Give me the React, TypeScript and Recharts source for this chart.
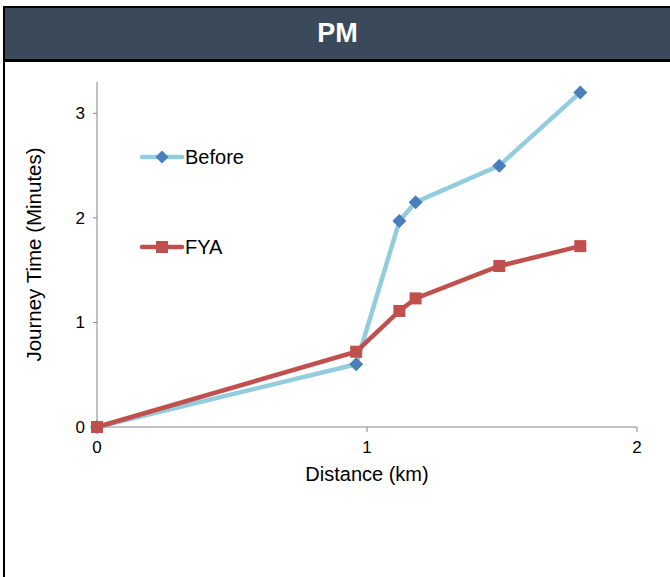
import { LineChart, Line, XAxis, YAxis } from 'recharts';

const FONT = "'Liberation Sans', Arial, sans-serif";
const AXIS = '#868686';
const BEFORE_LINE = '#93cddd';
const BEFORE_MARK = '#4a7ebb';
const FYA_COLOR = '#c0504d';

// distance along the route (km) and journey time (minutes)
const distanceKm = [0, 0.96, 1.12, 1.18, 1.49, 1.79];
const beforeMin = [0, 0.6, 1.97, 2.15, 2.5, 3.2];
const fyaMin = [0, 0.72, 1.11, 1.23, 1.54, 1.73];

const xTicks = [0, 1, 2];
const yTicks = [0, 1, 2, 3];

const data = distanceKm.map((d, i) => ({ d, before: beforeMin[i], fya: fyaMin[i] }));

const TICK = { fontSize: 17, fill: '#000', fontFamily: FONT };

function Diamond({ cx, cy, r = 7 }: { cx: number; cy: number; r?: number }) {
  return <path d={`M${cx},${cy - r}L${cx + r},${cy}L${cx},${cy + r}L${cx - r},${cy}Z`} fill={BEFORE_MARK} />;
}

function Square({ cx, cy, s = 12 }: { cx: number; cy: number; s?: number }) {
  return <rect x={cx - s / 2} y={cy - s / 2} width={s} height={s} fill={FYA_COLOR} />;
}

const beforeDot = (p: any) => <Diamond key={`b${p.index}`} cx={p.cx} cy={p.cy} />;
const fyaDot = (p: any) => <Square key={`f${p.index}`} cx={p.cx} cy={p.cy} />;

// legend sits inside the plot, top-left, two rows far apart
function LegendRow({ label, line, mark, top }: { label: string; line: string; mark: 'diamond' | 'square'; top: number }) {
  return (
    <div style={{ position: 'absolute', left: 139, top: top - 12, height: 24, display: 'flex', alignItems: 'center' }}>
      <svg width={46} height={24}>
        <line x1={3} y1={12} x2={43} y2={12} stroke={line} strokeWidth={4.5} strokeLinecap="round" />
        {mark === 'diamond' ? <Diamond cx={23} cy={12} r={6.5} /> : <Square cx={23} cy={12} s={12} />}
      </svg>
      <span style={{ fontFamily: FONT, fontSize: 20, color: '#000', lineHeight: '24px' }}>{label}</span>
    </div>
  );
}

const yTitle = (p: any) => {
  const { y, height } = p.viewBox;
  const cx = 33;
  const cy = y + height / 2;
  return (
    <text x={cx} y={cy} transform={`rotate(-90, ${cx}, ${cy})`} textAnchor="middle" dominantBaseline="central"
      fontFamily={FONT} fontSize={20.5} fill="#000">
      Journey Time (Minutes)
    </text>
  );
};

const xTitle = (p: any) => {
  const { x, width } = p.viewBox;
  return (
    <text x={x + width / 2} y={412} textAnchor="middle" dominantBaseline="central" fontFamily={FONT} fontSize={20} fill="#000">
      Distance (km)
    </text>
  );
};

export default function App() {
  return (
    <div style={{ position: 'absolute', left: 0, top: 0, width: 670, height: 577, overflow: 'hidden', background: '#fff' }}>
      <div style={{
        position: 'absolute', left: 3, top: 6, width: 700, height: 600,
        borderLeft: '2px solid #000', borderTop: '2px solid #000', boxSizing: 'border-box',
      }} />
      <div style={{
        position: 'absolute', left: 5, top: 8, width: 665, height: 51,
        background: '#3a4a5a', borderBottom: '3px solid #000',
        display: 'flex', alignItems: 'center', justifyContent: 'center',
        color: '#fff', fontFamily: FONT, fontWeight: 'bold', fontSize: 27,
      }}>
        PM
      </div>
      <div style={{ position: 'absolute', left: 0, top: 62 }}>
        <LineChart width={670} height={515} data={data} margin={{ top: 20, right: 33, left: 0, bottom: 120 }}>
          <XAxis
            dataKey="d" type="number" domain={[0, 2]} ticks={xTicks}
            tick={TICK} stroke={AXIS} tickSize={5} tickMargin={9} height={30}
            label={xTitle}
          />
          <YAxis
            type="number" domain={[0, 3.3]} ticks={yTicks}
            tick={TICK} stroke={AXIS} tickSize={4} tickMargin={8} width={97}
            label={yTitle}
          />
          <Line dataKey="before" stroke={BEFORE_LINE} strokeWidth={4.5} dot={beforeDot} activeDot={false}
            isAnimationActive={false} />
          <Line dataKey="fya" stroke={FYA_COLOR} strokeWidth={4.5} dot={fyaDot} activeDot={false}
            isAnimationActive={false} />
        </LineChart>
      </div>
      <LegendRow label="Before" line={BEFORE_LINE} mark="diamond" top={157} />
      <LegendRow label="FYA" line={FYA_COLOR} mark="square" top={247} />
    </div>
  );
}
